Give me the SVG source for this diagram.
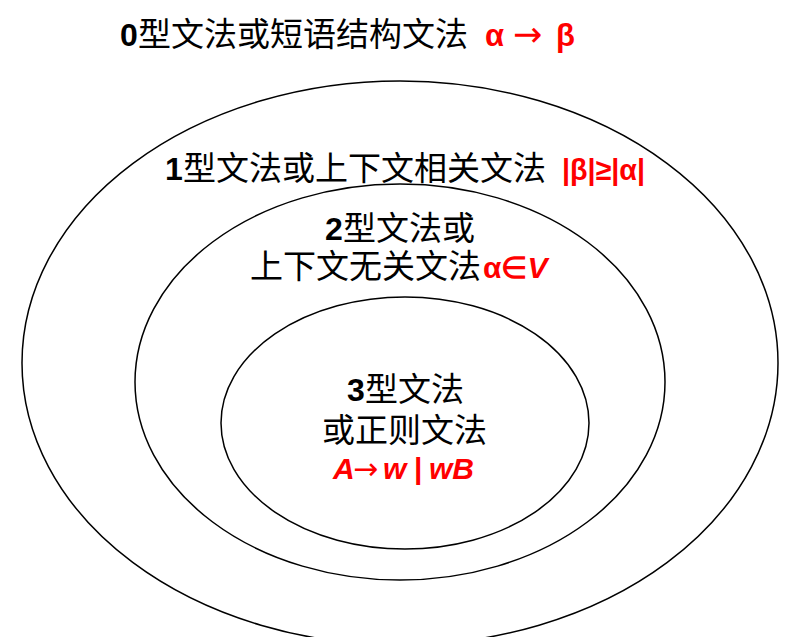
<svg xmlns="http://www.w3.org/2000/svg" width="807" height="637" viewBox="0 0 807 637">
<style>
.ring{fill:none;stroke:#000;stroke-width:1.5}
.cjk{font-family:"Noto Sans CJK SC","Liberation Sans",sans-serif;font-size:33px;fill:#000}
.num{font-family:"Liberation Sans",Arial,sans-serif;font-weight:bold;font-size:32px;fill:#000}
.red{font-family:"Liberation Sans",Arial,sans-serif;font-weight:bold;fill:#ff0000}
.arr{font-family:"DejaVu Sans",sans-serif;font-weight:normal;font-style:normal}
.it{font-style:italic}
</style>
<rect width="807" height="637" fill="#fff"/>
<g id="type0">
<ellipse class="ring" cx="400" cy="363" rx="378" ry="282"/>
<text y="46"><tspan class="num" x="120">0</tspan><tspan class="cjk" x="138">型文法或短语结构文法</tspan><tspan class="red" x="485" font-size="31">α</tspan><tspan class="red arr" x="513" font-size="35">→</tspan><tspan class="red" x="556" font-size="31">β</tspan></text>
</g>
<g id="type1">
<ellipse class="ring" cx="400" cy="382" rx="265" ry="198"/>
<text y="180"><tspan class="num" x="165">1</tspan><tspan class="cjk" x="183">型文法或上下文相关文法</tspan><tspan class="red" x="562" font-size="30" textLength="83" lengthAdjust="spacingAndGlyphs">|β|≥|α|</tspan></text>
</g>
<g id="type2">
<text y="240"><tspan class="num" x="325">2</tspan><tspan class="cjk" x="343">型文法或</tspan></text>
<text y="278"><tspan class="cjk" x="250">上下文无关文法</tspan><tspan class="red" x="483" font-size="30">α∈</tspan><tspan class="red it" font-size="30">V</tspan></text>
</g>
<g id="type3">
<ellipse class="ring" cx="405" cy="423" rx="184" ry="126"/>
<text y="401"><tspan class="num" x="347">3</tspan><tspan class="cjk" x="365">型文法</tspan></text>
<text class="cjk" x="322" y="442">或正则文法</text>
<text y="479" font-size="30"><tspan class="red it" x="333">A</tspan><tspan class="red arr" x="353" font-size="30">→</tspan><tspan class="red it" x="383">w</tspan><tspan class="red" x="414">|</tspan><tspan class="red it" x="429">wB</tspan></text>
</g>
<g id="connectors"></g>
</svg>
